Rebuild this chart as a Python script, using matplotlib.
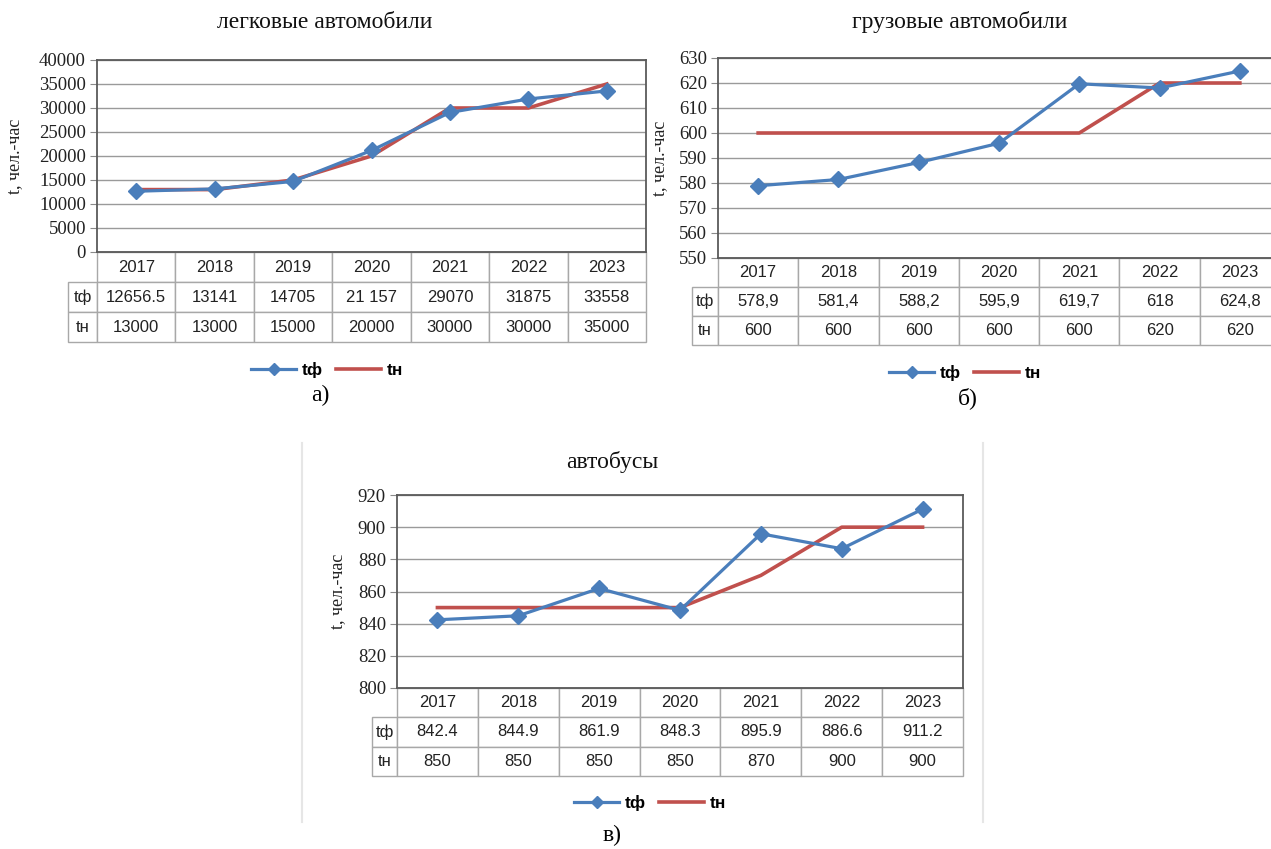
import numpy as np
import matplotlib.pyplot as plt
from matplotlib.lines import Line2D

years = ['2017', '2018', '2019', '2020', '2021', '2022', '2023']

cars_tf = [12656.5, 13141, 14705, 21157, 29070, 31875, 33558]
cars_tf_text = ['12656.5', '13141', '14705', '21 157', '29070', '31875', '33558']
cars_tn = [13000, 13000, 15000, 20000, 30000, 30000, 35000]

trucks_tf = [578.9, 581.4, 588.2, 595.9, 619.7, 618, 624.8]
trucks_tf_text = ['578,9', '581,4', '588,2', '595,9', '619,7', '618', '624,8']
trucks_tn = [600, 600, 600, 600, 600, 620, 620]

bus_tf = [842.4, 844.9, 861.9, 848.3, 895.9, 886.6, 911.2]
bus_tf_text = ['842.4', '844.9', '861.9', '848.3', '895.9', '886.6', '911.2']
bus_tn = [850, 850, 850, 850, 870, 900, 900]

W, H = 1271, 849
BLUE = '#4a7ebb'
RED = '#c0504d'
SERIF = 'Liberation Serif'
SANS = 'Liberation Sans'

fig = plt.figure(figsize=(W / 100, H / 100), dpi=100)


def fx(x):
    return x / W


def fy(y):
    return 1 - y / H


def panel(plot_px, label_left, table_bottom, title, title_xy, ylabel_x,
          legend_xy, caption, caption_xy, tf, tf_text, tn, ylim, ystep):
    l, t, r, b = plot_px
    ax = fig.add_axes([fx(l), fy(b), (r - l) / W, (b - t) / H])
    x = np.arange(len(years))
    l1, = ax.plot(x, tf, color=BLUE, lw=2.3, marker='D', ms=8, zorder=3)
    l2, = ax.plot(x, tn, color=RED, lw=2.6, zorder=2)
    ax.set_xlim(-0.5, len(years) - 0.5)
    ax.set_ylim(*ylim)
    ax.set_yticks(np.arange(ylim[0], ylim[1] + ystep / 2, ystep))
    ax.set_xticks([])
    ax.grid(axis='y', color='#9a9a9a', lw=1)
    ax.set_axisbelow(True)
    for s in ax.spines.values():
        s.set_color('#5a5a5a')
        s.set_linewidth(1.3)
    ax.tick_params(axis='y', length=5, color='#8a8a8a', pad=3, labelsize=13.5)
    for lab in ax.get_yticklabels():
        lab.set_fontfamily(SERIF)
        lab.set_color('#222222')

    # data table under the plot
    pw = r - l
    ph = b - t
    lw_frac = (l - label_left) / pw
    th = (table_bottom - b) / ph
    cells = [[''] + years,
             ['tф'] + tf_text,
             ['tн'] + [str(v) for v in tn]]
    tab = ax.table(cellText=cells, cellLoc='center',
                   colWidths=[lw_frac] + [1 / len(years)] * len(years),
                   bbox=[-lw_frac, -th, 1 + lw_frac, th])
    tab.auto_set_font_size(False)
    tab.set_fontsize(12)
    for (row, col), cell in tab.get_celld().items():
        cell.set_edgecolor('#a8a8a8')
        cell.set_linewidth(1)
        cell.get_text().set_fontfamily(SANS)
        cell.get_text().set_color('#222222')
        if row == 0 and col == 0:
            cell.visible_edges = ''

    fig.text(fx(title_xy[0]), fy(title_xy[1]), title, family=SERIF,
             fontsize=17, ha='center', va='center', color='#111111')
    fig.text(fx(ylabel_x), fy((t + b) / 2), 't, чел.-час', family=SERIF,
             fontsize=13, rotation=90, ha='center', va='center', color='#222222')
    fig.legend([l1, l2], ['tф', 'tн'], loc='center',
               bbox_to_anchor=(fx(legend_xy[0]), fy(legend_xy[1])),
               ncol=2, frameon=False, handlelength=2.6, columnspacing=0.8,
               handletextpad=0.3, markerscale=0.8,
               prop={'family': SANS, 'size': 12.5, 'weight': 'bold'})
    fig.text(fx(caption_xy[0]), fy(caption_xy[1]), caption, family=SERIF,
             fontsize=17, ha='center', va='center', color='#000000')
    return ax


panel((97, 60, 646, 252), 68, 342, 'легковые автомобили', (325, 22), 15,
      (327, 370), 'а)', (320, 395), cars_tf, cars_tf_text, cars_tn,
      (0, 40000), 5000)

panel((718, 58, 1280, 258), 692, 345, 'грузовые автомобили', (960, 22), 660,
      (965, 373), 'б)', (968, 398), trucks_tf, trucks_tf_text, trucks_tn,
      (550, 630), 10)

panel((397, 495, 963, 688), 372, 776, 'автобусы', (612, 462), 338,
      (650, 803), 'в)', (612, 835), bus_tf, bus_tf_text, bus_tn,
      (800, 920), 20)

# light frame around the bus chart
for xp in (302, 983):
    fig.add_artist(Line2D([fx(xp), fx(xp)], [fy(443), fy(822)],
                          color='#e6e6e6', lw=1.5, transform=fig.transFigure))

fig.savefig('out.png', dpi=100)
